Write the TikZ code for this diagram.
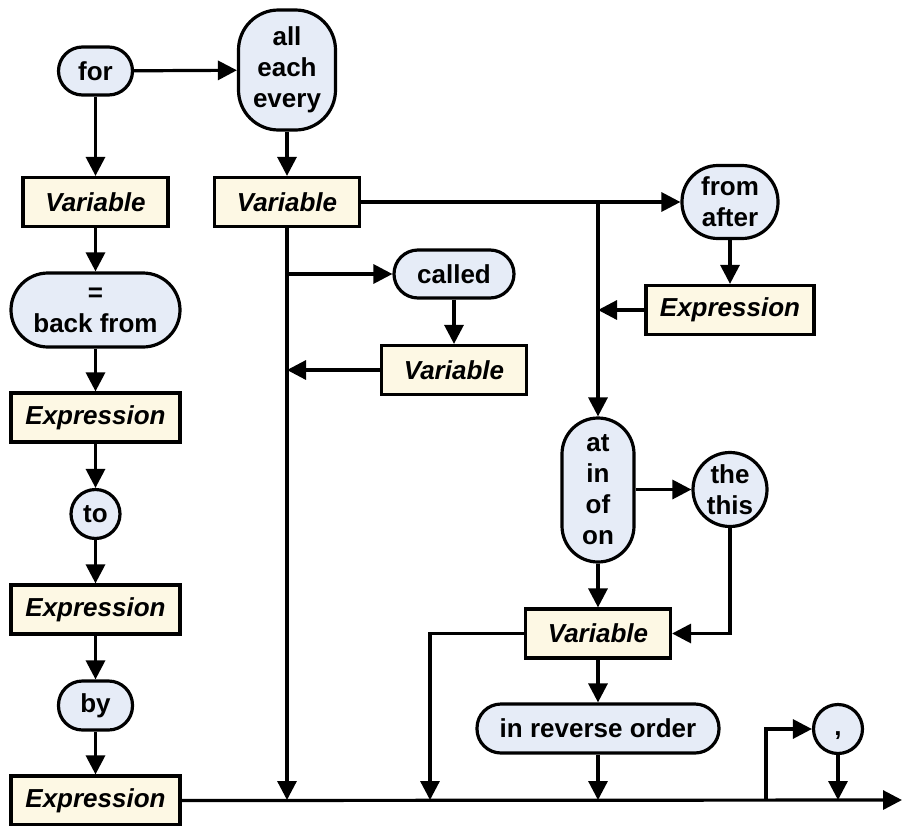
\documentclass[tikz,border=0pt]{standalone}
\usepackage{fontspec}
\setmainfont{Liberation Sans}
\usetikzlibrary{arrows.meta}
\definecolor{kwfill}{HTML}{E6ECF7}
\definecolor{ntfill}{HTML}{FDF8E4}
\begin{document}
\begin{tikzpicture}[x=1pt,y=-1pt,
  every node/.style={inner sep=0pt, align=center,
    font=\fontsize{26}{31}\selectfont\bfseries, line width=3.2pt, draw=black},
  kw/.style={fill=kwfill, rounded corners=#1},
  kw/.default=24pt,
  nt/.style={fill=ntfill, font=\fontsize{26}{31}\selectfont\bfseries\itshape,
    minimum height=49pt},
  ring/.style={fill=kwfill, circle},
  link/.style={line width=3.2pt, -{Triangle[length=19pt,width=19pt]}}
]
\useasboundingbox (0,0) rectangle (902,825);

% left column
\node[kw, minimum width=74pt, minimum height=48pt] (for) at (95.5,71) {for};
\node[nt, minimum width=145pt] (var1) at (95.5,202) {Variable};
\node[kw=37pt, minimum width=169pt, minimum height=74pt] (eq) at (95.5,310) {=\\back from};
\node[nt, minimum width=169pt] (exp1) at (95.5,417.5) {Expression};
\node[ring, minimum size=49pt] (to) at (95.5,514) {to};
\node[nt, minimum width=169pt] (exp2) at (95.5,609.5) {Expression};
\node[kw, minimum width=74pt, minimum height=49pt] (by) at (95.5,705.5) {by};
\node[nt, minimum width=169pt] (exp3) at (95.5,800.5) {Expression};

% second column
\node[kw=40pt, minimum width=97pt, minimum height=120pt] (all) at (287,70) {all\\each\\every};
\node[nt, minimum width=145pt] (var2) at (287,202) {Variable};
\node[kw, minimum width=120pt, minimum height=48pt] (called) at (454,274) {called};
\node[nt, minimum width=145pt] (var3) at (454,370) {Variable};

% right part
\node[kw=36pt, minimum width=96pt, minimum height=73pt] (from) at (730,202) {from\\after};
\node[nt, minimum width=168pt] (exp4) at (730,310) {Expression};
\node[kw=36pt, minimum width=72pt, minimum height=144pt] (at) at (598,490) {at\\in\\of\\on};
\node[ring, minimum size=74pt] (the) at (730,489.5) {the\\this};
\node[nt, minimum width=145pt] (var4) at (598,633.5) {Variable};
\node[kw, minimum width=242pt, minimum height=49pt] (rev) at (598,728.5) {in reverse order};
\node[ring, minimum size=49pt] (comma) at (838,729) {\strut,};

% junctions and end of the main line
\coordinate (j1) at (287,800);
\coordinate (j2) at (430,800);
\coordinate (j3) at (598,800);
\coordinate (j4) at (766,800);
\coordinate (j5) at (838,800);
\coordinate (fin) at (902,800);
\coordinate (b1) at (287,274);
\coordinate (b2) at (287,370);
\coordinate (b3) at (598,202);
\coordinate (b4) at (598,310);

% main line
\draw[link] (exp3.east) -- (fin);

% left column chain
\draw[link] (for) -- (var1);
\draw[link] (var1) -- (eq);
\draw[link] (eq) -- (exp1);
\draw[link] (exp1) -- (to);
\draw[link] (to) -- (exp2);
\draw[link] (exp2) -- (by);
\draw[link] (by) -- (exp3);

% second column
\draw[link] (for) -- (all);
\draw[link] (all) -- (var2);
\draw[link] (var2.south) -- (j1);
\draw[link] (b1) -- (called.west);
\draw[link] (called) -- (var3);
\draw[link] (var3.west) -- (b2);

% right part
\draw[link] (var2.east) -- (from.west);
\draw[link] (b3) -- (at.north);
\draw[link] (from) -- (exp4);
\draw[link] (exp4.west) -- (b4);
\draw[link] (at.east |- the.west) -- (the.west);
\draw[link] (the.south) |- (var4.east);
\draw[link] (var4.west) -| (j2);
\draw[link] (at) -- (var4);
\draw[link] (var4) -- (rev);
\draw[link] (rev.south) -- (j3);
\draw[link] (j4) |- (comma.west);
\draw[link] (comma.south) -- (j5);
\end{tikzpicture}
\end{document}
